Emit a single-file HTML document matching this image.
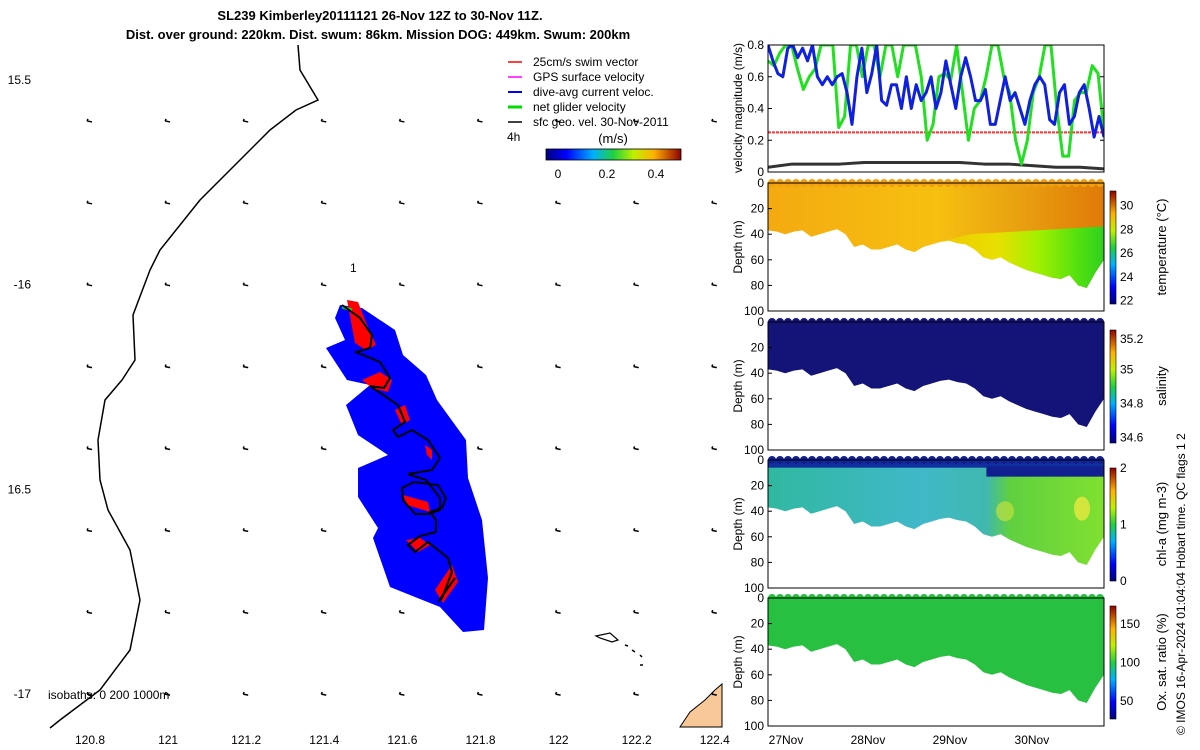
<!DOCTYPE html>
<html><head><meta charset="utf-8"><style>
html,body{margin:0;padding:0;background:#fff;}
svg{display:block;font-family:"Liberation Sans",sans-serif;}
</style></head><body>
<svg id="fig" width="1200" height="750" viewBox="0 0 1200 750">
<defs>
<linearGradient id="jetV" x1="0" y1="1" x2="0" y2="0">
<stop offset="0" stop-color="#00007f"/><stop offset="0.15" stop-color="#0000ff"/><stop offset="0.35" stop-color="#00b0ff"/><stop offset="0.5" stop-color="#20d040"/><stop offset="0.65" stop-color="#c0f000"/><stop offset="0.8" stop-color="#ffb000"/><stop offset="1" stop-color="#900000"/></linearGradient>
<linearGradient id="jetH" x1="0" y1="0" x2="1" y2="0">
<stop offset="0" stop-color="#00007f"/><stop offset="0.15" stop-color="#0000ff"/><stop offset="0.35" stop-color="#00b0ff"/><stop offset="0.5" stop-color="#20d040"/><stop offset="0.65" stop-color="#c0f000"/><stop offset="0.8" stop-color="#ffb000"/><stop offset="1" stop-color="#900000"/></linearGradient>
<linearGradient id="tempG" x1="0" y1="0" x2="1" y2="0">
<stop offset="0" stop-color="#f4aa10"/><stop offset="0.5" stop-color="#f6c010"/><stop offset="0.75" stop-color="#e8a010"/><stop offset="1" stop-color="#e07a08"/></linearGradient>
<linearGradient id="tempDeep" x1="0" y1="0" x2="1" y2="0">
<stop offset="0" stop-color="#f0c800"/><stop offset="0.35" stop-color="#e8e000"/><stop offset="0.6" stop-color="#a0f000"/><stop offset="0.85" stop-color="#50e010"/><stop offset="1" stop-color="#30d020"/></linearGradient>
<linearGradient id="chlG" x1="0" y1="0" x2="1" y2="0">
<stop offset="0" stop-color="#30b8a0"/><stop offset="0.45" stop-color="#40b8c8"/><stop offset="0.65" stop-color="#40b8b0"/><stop offset="0.72" stop-color="#60d040"/><stop offset="1" stop-color="#80e030"/></linearGradient>
</defs>

<text x="380" y="20" text-anchor="middle" font-size="13" font-weight="bold">SL239 Kimberley20111121 26-Nov 12Z to 30-Nov 11Z.</text>
<text x="378" y="39" text-anchor="middle" font-size="13" font-weight="bold">Dist. over ground: 220km. Dist. swum: 86km. Mission DOG: 449km. Swum: 200km</text>

<g id="map">
<path d="M680,727 L690,712 L705,700 L715,690 L722,684 L722,727 Z" fill="#f8c898" stroke="#000" stroke-width="1"/>
<path d="M298,45 L300,70 L318,100 L296,110 L270,130 L240,160 L200,200 L160,250 L150,270 L133,315 L135,360 L122,380 L105,400 L98,440 L100,480 L108,510 L130,550 L140,600 L130,650 L100,690 L60,720 L50,728" fill="none" stroke="#000" stroke-width="1.5"/>
<path d="M596,636 L610,633 L618,640 L612,642 L600,638 Z" fill="none" stroke="#000" stroke-width="1.2"/>
<path d="M625,645 l3,1 M632,650 l3,2 M640,655 l2,2 M640,665 l3,0" stroke="#000" stroke-width="1.5"/>
<g id="quiver"></g>
<polygon points="340,305 362,308 395,330 403,355 426,375 437,400 466,440 468,478 482,520 488,578 484,630 463,632 440,607 390,587 373,538 378,528 358,497 358,468 388,455 358,435 346,405 370,385 347,380 326,348 345,340 335,318" fill="#0000ff"/>
<g fill="#ff0000">
<polygon points="347,300 358,302 365,320 376,345 366,350 355,343"/>
<polygon points="362,380 380,372 392,380 388,392 372,388"/>
<polygon points="395,410 405,405 410,420 402,425"/>
<polygon points="425,445 432,450 432,460 427,455"/>
<polygon points="403,495 428,502 430,512 407,505"/>
<polygon points="406,540 420,538 430,545 418,552"/>
<polygon points="435,590 452,565 458,582 443,603"/>
</g>
<line x1="342" y1="307" x2="352" y2="310" stroke="#00e000" stroke-width="3"/>
<polyline points="342,305 360,318 372,335 370,348 356,352 380,362 390,378 384,388 370,386 398,405 405,422 393,430 398,437 412,430 428,440 440,458 432,470 408,474 426,480 440,498 440,510 428,514 415,514 403,500 402,488 414,482 438,485 446,498 442,508 430,512 436,520 436,532 420,536 408,545 415,552 428,542 448,558 452,572 442,598 438,602 455,578" fill="none" stroke="#000" stroke-width="2"/>
<text x="350" y="272" font-size="12">1</text>
<text x="507" y="141" font-size="12">4h</text>
<g id="mapTicks" font-size="12"></g>
<text x="48" y="699" font-size="12">isobaths: 0   200  1000m</text>
<g font-size="12">
<line x1="522" y1="62" x2="508" y2="62" stroke="#f00" stroke-width="1.5"/><text x="533" y="66">25cm/s swim vector</text>
<line x1="522" y1="77" x2="508" y2="77" stroke="#f0f" stroke-width="1.5"/><text x="533" y="81">GPS surface velocity</text>
<line x1="522" y1="92" x2="508" y2="92" stroke="#00f" stroke-width="2"/><text x="533" y="96">dive-avg current veloc.</text>
<line x1="522" y1="107" x2="508" y2="107" stroke="#0d0" stroke-width="3"/><text x="533" y="111">net glider velocity</text>
<line x1="522" y1="122" x2="508" y2="122" stroke="#000" stroke-width="1.5"/><text x="533" y="126">sfc geo. vel. 30-Nov-2011</text>
</g>
<text x="613" y="143" text-anchor="middle" font-size="13">(m/s)</text>
<rect x="546" y="149" width="135" height="11" fill="url(#jetH)" stroke="#000" stroke-width="0.8"/>
<g font-size="12" text-anchor="middle">
<text x="558" y="178">0</text><text x="607" y="178">0.2</text><text x="656" y="178">0.4</text></g>
</g>

<g id="vel"></g>
<g id="depths"></g>
<text transform="translate(1185,735) rotate(-90)" font-size="12">© IMOS 16-Apr-2024 01:04:04 Hobart time. QC flags 1  2</text>
</svg>
<script>
const NS='http://www.w3.org/2000/svg';
function mk(tag,attrs,parent,text){const e=document.createElementNS(NS,tag);for(const k in attrs)e.setAttribute(k,attrs[k]);if(text!==undefined)e.textContent=text;parent.appendChild(e);return e;}

const lonTicks=[120.8,121,121.2,121.4,121.6,121.8,122,122.2,122.4];
const latTicks=[-15.5,-16,-16.5,-17];
const latLabels=['15.5','-16','16.5','-17'];
const arrowLons=[120.8,121,121.2,121.4,121.6,121.8,122,122.2,122.4];
const arrowLats=[-15.6,-15.8,-16,-16.2,-16.4,-16.6,-16.8,-17];
const mx=lon=>90+(lon-120.8)/0.2*78.1;
const my=lat=>80+(-15.5-lat)/0.5*204.7;
const mt=document.getElementById('mapTicks');
lonTicks.forEach(v=>{
 const x=mx(v);
 const l=mk('text',{x:x,y:744,'text-anchor':'middle'},mt,String(v));
 
 
});
latTicks.forEach((v,i)=>{
 const y=my(v);
 const l=mk('text',{x:31,y:y+4,'text-anchor':'end'},mt,latLabels[i]);
 
 
});
const qv=document.getElementById('quiver');
arrowLats.forEach(la=>arrowLons.forEach(lo=>{
 const x=mx(lo),y=my(la);
 const a=mk('path',{d:`M${x-3},${y} L${x+2},${y+1} M${x-3},${y} l1,-2`,stroke:'#000','stroke-width':1.5,fill:'none'},qv);
 
 
}));

const blueVel=[0.8,0.7,0.62,0.6,0.78,0.8,0.72,0.78,0.7,0.8,0.6,0.55,0.6,0.55,0.6,0.62,0.5,0.3,0.6,0.78,0.5,0.62,0.8,0.45,0.42,0.55,0.55,0.4,0.6,0.4,0.55,0.45,0.5,0.6,0.4,0.5,0.7,0.55,0.4,0.6,0.72,0.6,0.45,0.45,0.52,0.3,0.3,0.45,0.6,0.45,0.5,0.4,0.3,0.45,0.55,0.6,0.55,0.33,0.3,0.5,0.55,0.3,0.35,0.5,0.55,0.4,0.22,0.35,0.22];
const greenVel=[0.7,0.67,0.75,0.8,0.8,0.65,0.52,0.6,0.65,0.8,0.8,0.8,0.28,0.35,0.8,0.8,0.6,0.8,0.8,0.6,0.8,0.8,0.6,0.8,0.8,0.8,0.6,0.2,0.3,0.6,0.62,0.58,0.8,0.5,0.2,0.4,0.45,0.6,0.8,0.8,0.6,0.5,0.2,0.05,0.2,0.5,0.6,0.8,0.8,0.4,0.1,0.1,0.45,0.5,0.5,0.67,0.62,0.25];
const sfcVel=[0.03,0.05,0.05,0.05,0.06,0.06,0.06,0.06,0.06,0.05,0.05,0.04,0.03,0.03,0.02];
const swimVel=[0.25,0.25];
const velTicks=[0,0.2,0.4,0.6,0.8];
const dayTicks=['27Nov','28Nov','29Nov','30Nov'];
const dayVals=[27,28,29,30];
const PX0=768,PX1=1104,T0=26.78,T1=30.88;
const tx=t=>PX0+(t-T0)/(T1-T0)*(PX1-PX0);
const VY0=172,VY1=45;
const vy=v=>VY0-(v)/0.8*(VY0-VY1);
const vel=document.getElementById('vel');
mk('clipPath',{id:'vclip'},vel);
mk('rect',{x:PX0,y:VY1,width:PX1-PX0,height:VY0-VY1},document.getElementById('vclip'));
const vg=mk('g',{'clip-path':'url(#vclip)'},vel);
function series(arr,color,w,name,dash){
 const pts=arr.map((v,i)=>`${PX0+i/(arr.length-1)*(PX1-PX0)},${vy(v)}`).join(' ');
 const p=mk('polyline',{points:pts,fill:'none',stroke:color,'stroke-width':w,'stroke-linejoin':'round'},vg);
 if(dash)p.setAttribute('stroke-dasharray',dash);
 
 
}
series(swimVel,'#ff3030',2,'swim-speed-line','3,1');
series(sfcVel,'#333',3,'surface-velocity-line');
series(greenVel,'#20e020',3,'net-glider-velocity-line');
series(blueVel,'#1020e0',3,'dive-avg-current-line');
mk('rect',{x:PX0,y:VY1,width:PX1-PX0,height:VY0-VY1,fill:'none',stroke:'#000'},vel);
velTicks.forEach(v=>{
 const l=mk('text',{x:PX0-4,y:vy(v)+4,'text-anchor':'end','font-size':12},vel,String(v));
 
 
 mk('line',{x1:PX0,x2:PX0+4,y1:vy(v),y2:vy(v),stroke:'#000'},vel);
 mk('line',{x1:PX1,x2:PX1-4,y1:vy(v),y2:vy(v),stroke:'#000'},vel);
});
const vt=mk('text',{transform:'translate(742,108) rotate(-90)','text-anchor':'middle','font-size':12},vel,'velocity magnitude (m/s)');



const bottomDepth=[37,38,40,38,37,42,40,38,36,40,50,48,52,52,50,48,52,54,50,48,46,45,47,48,52,58,60,58,62,65,68,70,72,74,75,72,80,82,70,60];
const depthTicks=[0,20,40,60,80,100];
const panelTops=[183,322,460,598];
const PH=128;
const panels=[
 {name:'temperature',label:'temperature (°C)',cb:['22','24','26','28','30'],cbv:[0.03,0.24,0.45,0.66,0.87]},
 {name:'salinity',label:'salinity',cb:['34.6','34.8','35','35.2'],cbv:[0.05,0.35,0.65,0.92]},
 {name:'chlorophyll',label:'chl-a (mg m-3)',cb:['0','1','2'],cbv:[0,0.5,1]},
 {name:'oxygen',label:'Ox. sat. ratio (%)',cb:['50','100','150'],cbv:[0.16,0.5,0.84]}
];
const dp=document.getElementById('depths');
panels.forEach((p,k)=>{
 const top=panelTops[k];
 const dy=d=>top+d/100*PH;
 const g=mk('g',{},dp);
 
 
 const n=bottomDepth.length;
 let pts=`${PX0},${dy(-1)} ${PX1},${dy(-1)} `;
 for(let i=n-1;i>=0;i--){pts+=`${PX0+i/(n-1)*(PX1-PX0)},${dy(bottomDepth[i])} `;}
 const fills=['url(#tempG)','#141478','url(#chlG)','#28c040'];
 const poly=mk('polygon',{points:pts,fill:fills[k]},g);
 
 
 if(k===0){
  const i0=Math.floor(n*0.5);
  let p2=`${PX0+i0/(n-1)*(PX1-PX0)},${dy(bottomDepth[i0])} ${PX0+0.6*(PX1-PX0)},${dy(40)} ${PX1},${dy(34)} `;
  for(let i=n-1;i>=i0;i--){p2+=`${PX0+i/(n-1)*(PX1-PX0)},${dy(bottomDepth[i])} `;}
  const d=mk('polygon',{points:p2,fill:'url(#tempDeep)'},g);
  
  
 }
 if(k===2){
  const s=mk('rect',{x:PX0,y:dy(-1),width:PX1-PX0,height:PH*0.07,fill:'#1030a0'},g);
  
  
  mk('rect',{x:PX0+0.65*(PX1-PX0),y:dy(5),width:0.35*(PX1-PX0),height:PH*0.08,fill:'#102090'},g);
  mk('ellipse',{cx:1082,cy:dy(38),rx:8,ry:12,fill:'#e8e840',opacity:0.8},g);
  mk('ellipse',{cx:1005,cy:dy(40),rx:9,ry:10,fill:'#c0e040',opacity:0.7},g);
 }
 for(let i=0;i<42;i++){mk('circle',{cx:PX0+4+i*8,cy:dy(0),r:4,fill:k===1?'#141478':(k===0?'#f2a010':(k===2?'#102090':'#28c040'))},g);}
 mk('rect',{x:PX0,y:top,width:PX1-PX0,height:PH,fill:'none',stroke:'#000'},g);
 depthTicks.forEach(d=>{
  const l=mk('text',{x:PX0-4,y:dy(d)+4,'text-anchor':'end','font-size':12},g,String(d));
  
  
  mk('line',{x1:PX0,x2:PX0+4,y1:dy(d),y2:dy(d),stroke:'#000'},g);
 });
 const yt=mk('text',{transform:`translate(742,${top+PH/2}) rotate(-90)`,'text-anchor':'middle','font-size':12},g,'Depth (m)');
 
 
 const cbTop=top+8,cbH=113;
 const cb=mk('rect',{x:1110,y:cbTop,width:6,height:cbH,fill:'url(#jetV)',stroke:'#000','stroke-width':0.6},g);
 
 
 p.cb.forEach((lab,j)=>{
  const y=cbTop+cbH-p.cbv[j]*cbH;
  const l=mk('text',{x:1120,y:y+4,'font-size':12},g,lab);
  
  
 });
 const ct=mk('text',{transform:`translate(1166,${top+PH/2}) rotate(-90)`,'text-anchor':'middle','font-size':13},g,p.label);
 
 
});
dayVals.forEach((d,i)=>{
 const l=mk('text',{x:tx(d),y:744,'text-anchor':'middle','font-size':12},dp,dayTicks[i]);
 
 
});
</script>
</body></html>
